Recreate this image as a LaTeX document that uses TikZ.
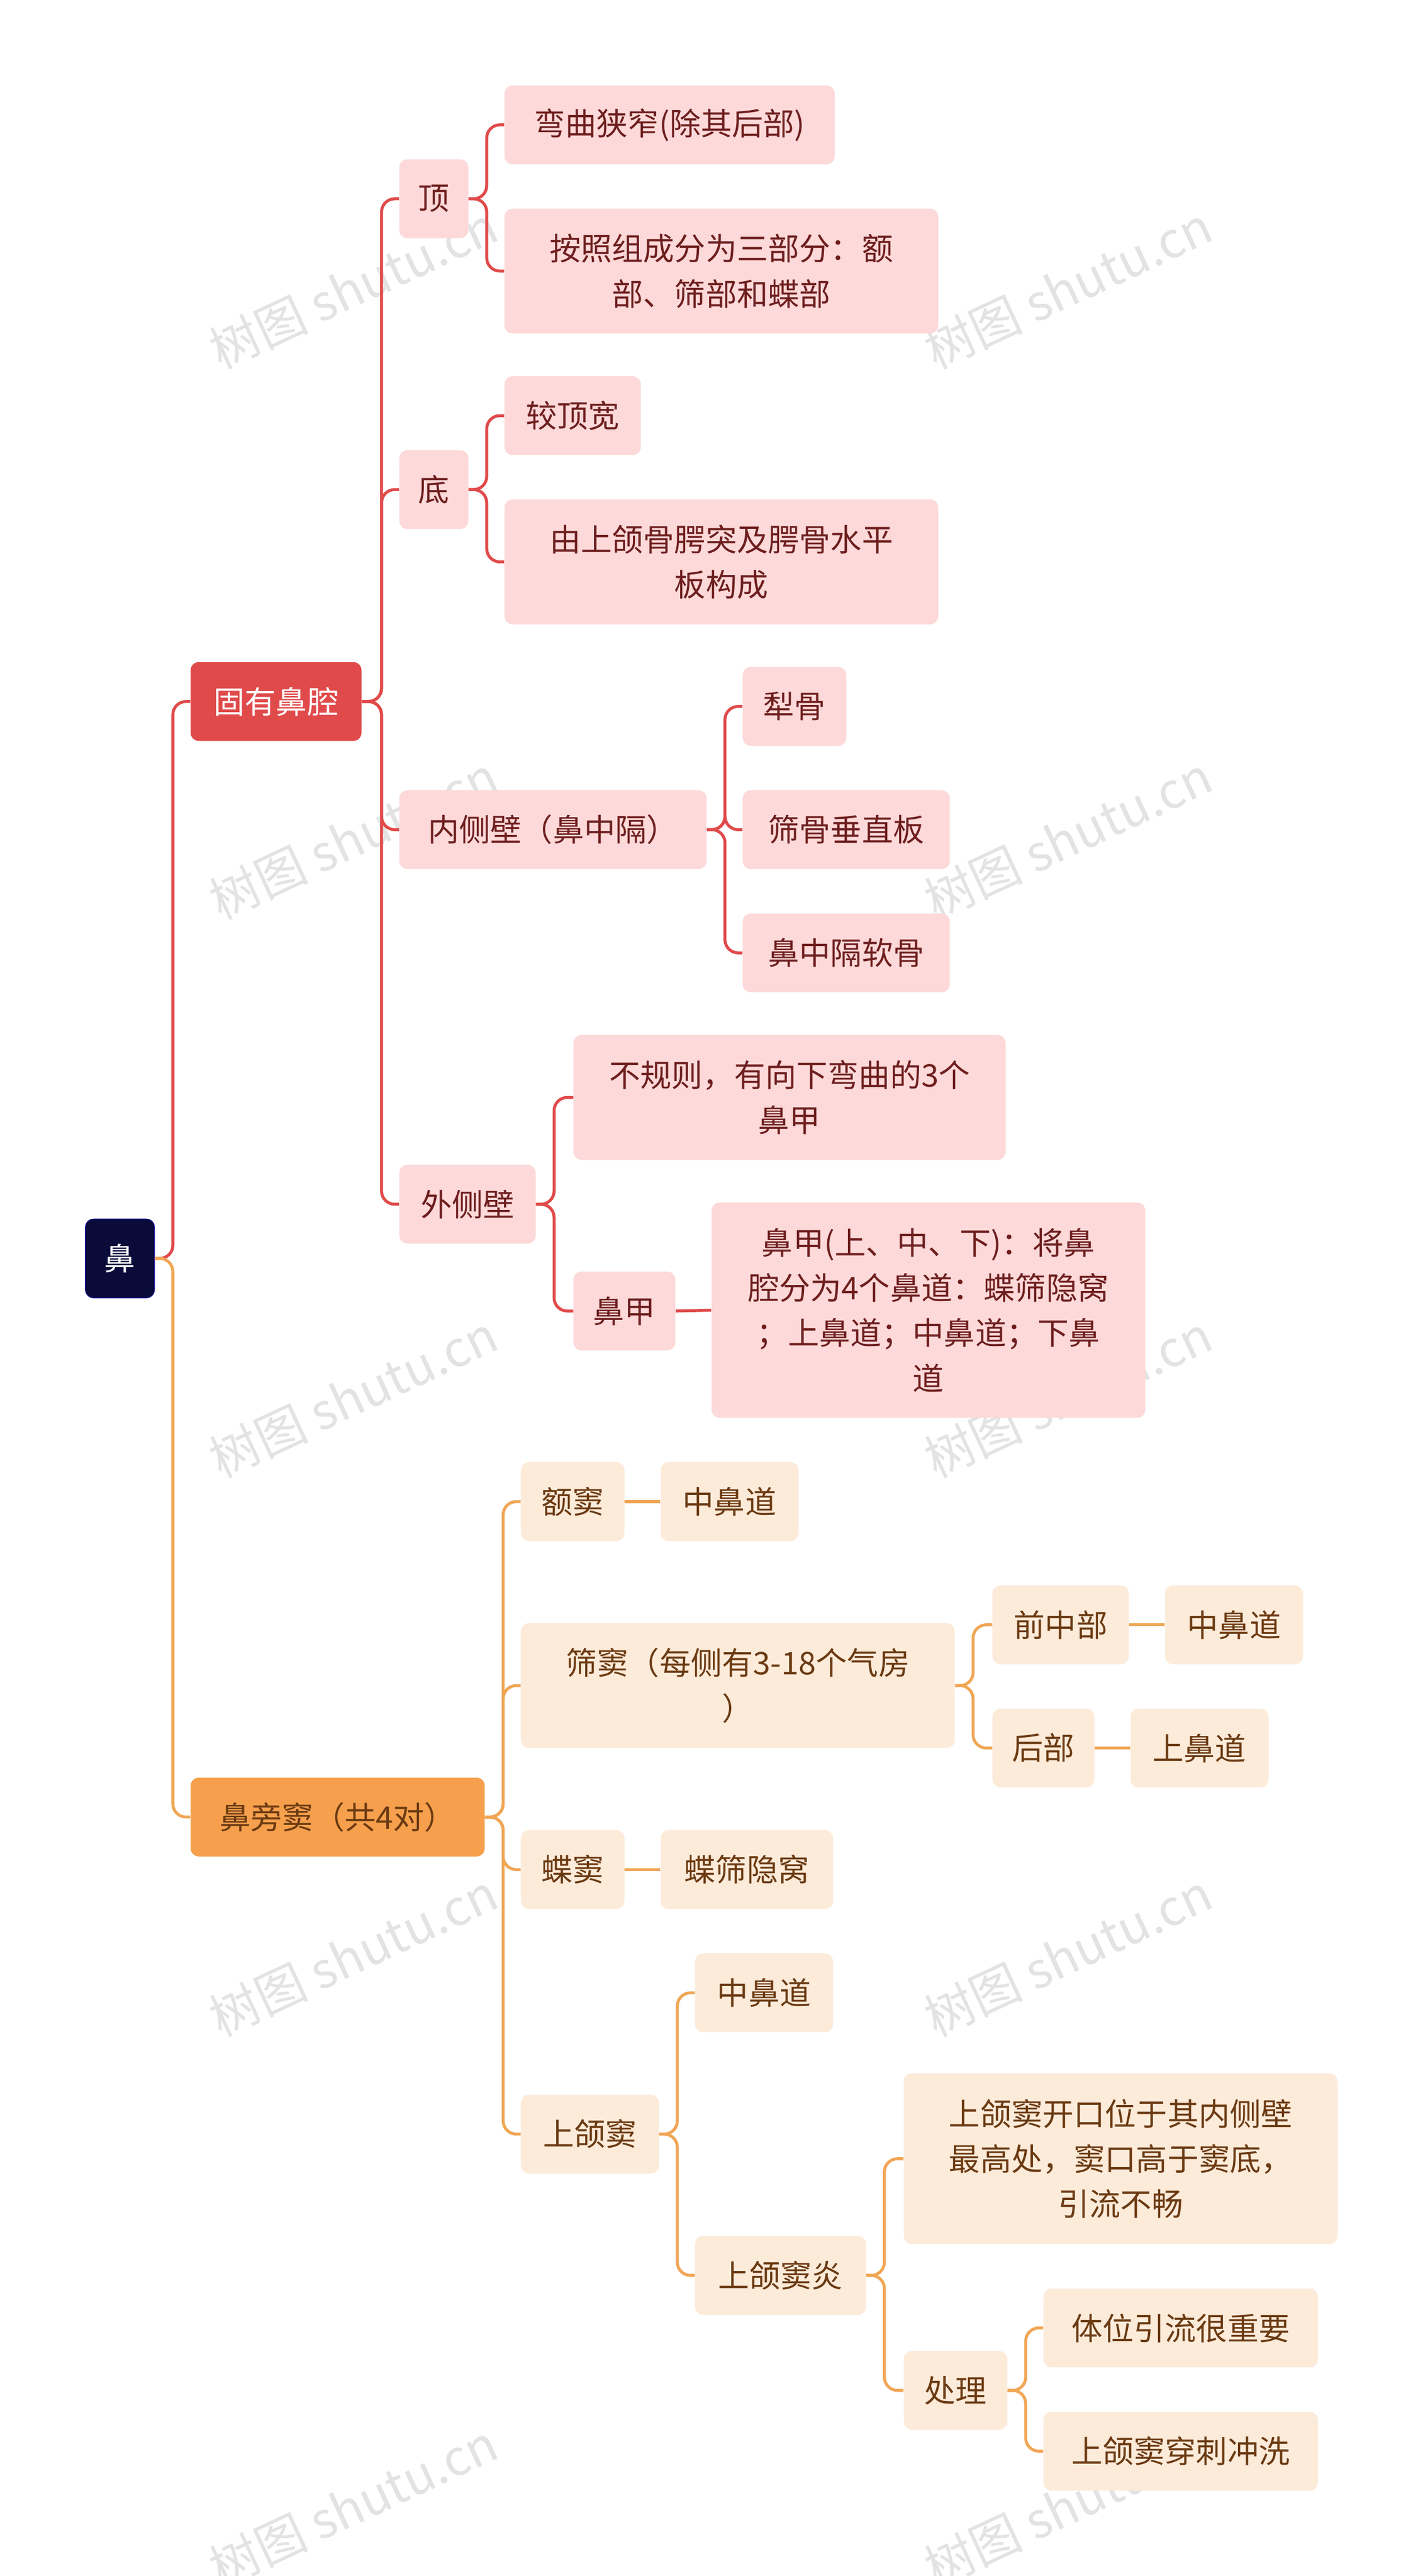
\documentclass[tikz,border=0pt]{standalone}
\usepackage{fontspec}
\newfontfamily\cjk{Noto Sans CJK SC}
\definecolor{rl}{HTML}{E04A4A}
\definecolor{ol}{HTML}{F0A655}
\definecolor{pk}{HTML}{FDD9D9}
\definecolor{pe}{HTML}{FDEBDA}
\definecolor{rt}{HTML}{6E1E1E}
\definecolor{ot}{HTML}{6B3A12}
\definecolor{nv}{HTML}{0B0B3A}
\definecolor{orf}{HTML}{F6A04D}
\newcommand{\bx}[7]{\node[#6,minimum width={#4-#2},minimum height={#5-#3},align=center] (#1) at ({(#2+#4)/2},{(#3+#5)/2}) {#7};}
\tikzset{
 base/.style={rounded corners=5pt,inner sep=0pt,font=\cjk\fontsize{19}{27.5}\selectfont},
 pkb/.style={base,fill=pk,text=rt},
 peb/.style={base,fill=pe,text=ot},
 rc/.style={draw=rl,line width=1.8pt,rounded corners=8pt},
 oc/.style={draw=ol,line width=1.8pt,rounded corners=8pt},
 wm/.style={text=gray!22,rotate=25,font=\cjk\fontsize{30}{30}\selectfont}
}
\begin{document}
\begin{tikzpicture}[x=1pt,y=-1pt]
\useasboundingbox[fill=white] (0,0) rectangle (866,1568);
\foreach \a/\b in {215/175,650/175,215/510,650/510,215/850,650/850,215/1190,650/1190,215/1525,650/1525}
 \node[wm] at (\a,\b) {树图 shutu.cn};
\bx{root}{52}{742}{94}{790}{base,fill=nv,draw=blue!60!black,text=white}{鼻}
\bx{gy}{116}{403}{220}{451}{base,fill=rl,text=white}{固有鼻腔}
\bx{bp}{116}{1082}{295}{1130}{base,fill=orf,text=ot}{鼻旁窦（共4对）}
\bx{ding}{243}{97}{285}{145}{pkb}{顶}
\bx{d1}{307}{52}{508}{100}{pkb}{弯曲狭窄(除其后部)}
\bx{d2}{307}{127}{571}{203}{pkb}{按照组成分为三部分：额\\部、筛部和蝶部}
\bx{di}{243}{274}{285}{322}{pkb}{底}
\bx{di1}{307}{229}{390}{277}{pkb}{较顶宽}
\bx{di2}{307}{304}{571}{380}{pkb}{由上颌骨腭突及腭骨水平\\板构成}
\bx{nc}{243}{481}{430}{529}{pkb}{内侧壁（鼻中隔）}
\bx{n1}{452}{406}{515}{454}{pkb}{犁骨}
\bx{n2}{452}{481}{578}{529}{pkb}{筛骨垂直板}
\bx{n3}{452}{556}{578}{604}{pkb}{鼻中隔软骨}
\bx{wc}{243}{709}{326}{757}{pkb}{外侧壁}
\bx{w1}{349}{630}{612}{706}{pkb}{不规则，有向下弯曲的3个\\鼻甲}
\bx{w2}{349}{774}{411}{822}{pkb}{鼻甲}
\bx{w3}{433}{732}{697}{863}{pkb}{鼻甲(上、中、下)：将鼻\\腔分为4个鼻道：蝶筛隐窝\\；上鼻道；中鼻道；下鼻\\道}
\bx{e}{317}{890}{380}{938}{peb}{额窦}
\bx{e1}{402}{890}{486}{938}{peb}{中鼻道}
\bx{s}{317}{988}{581}{1064}{peb}{筛窦（每侧有3-18个气房\\）}
\bx{s1}{604}{965}{687}{1013}{peb}{前中部}
\bx{s11}{709}{965}{793}{1013}{peb}{中鼻道}
\bx{s2}{604}{1040}{666}{1088}{peb}{后部}
\bx{s21}{688}{1040}{772}{1088}{peb}{上鼻道}
\bx{die}{317}{1114}{380}{1162}{peb}{蝶窦}
\bx{die1}{402}{1114}{507}{1162}{peb}{蝶筛隐窝}
\bx{sh}{317}{1275}{401}{1323}{peb}{上颌窦}
\bx{sh1}{423}{1189}{507}{1237}{peb}{中鼻道}
\bx{sh2}{423}{1361}{527}{1409}{peb}{上颌窦炎}
\bx{y1}{550}{1262}{814}{1366}{peb}{上颌窦开口位于其内侧壁\\最高处，窦口高于窦底，\\引流不畅}
\bx{cl}{550}{1431}{613}{1479}{peb}{处理}
\bx{c1}{635}{1393}{802}{1441}{peb}{体位引流很重要}
\bx{c2}{635}{1468}{802}{1516}{peb}{上颌窦穿刺冲洗}
\draw[rc] (root.east) -- ++(11,0) |- (gy.west);
\draw[oc] (root.east) -- ++(11,0) |- (bp.west);
\foreach \c in {ding,di,nc,wc} \draw[rc] (gy.east) -- ++(12,0) |- (\c.west);
\foreach \c in {d1,d2} \draw[rc] (ding.east) -- ++(11,0) |- (\c.west);
\foreach \c in {di1,di2} \draw[rc] (di.east) -- ++(11,0) |- (\c.west);
\foreach \c in {n1,n2,n3} \draw[rc] (nc.east) -- ++(11,0) |- (\c.west);
\foreach \c in {w1,w2} \draw[rc] (wc.east) -- ++(11,0) |- (\c.west);
\draw[rc] (w2.east) -- (w3.west);
\foreach \c in {e,s,die,sh} \draw[oc] (bp.east) -- ++(11,0) |- (\c.west);
\draw[oc] (e.east) -- (e1.west);
\foreach \c in {s1,s2} \draw[oc] (s.east) -- ++(11,0) |- (\c.west);
\draw[oc] (s1.east) -- (s11.west);
\draw[oc] (s2.east) -- (s21.west);
\draw[oc] (die.east) -- (die1.west);
\foreach \c in {sh1,sh2} \draw[oc] (sh.east) -- ++(11,0) |- (\c.west);
\foreach \c in {y1,cl} \draw[oc] (sh2.east) -- ++(11,0) |- (\c.west);
\foreach \c in {c1,c2} \draw[oc] (cl.east) -- ++(11,0) |- (\c.west);
\end{tikzpicture}
\end{document}
